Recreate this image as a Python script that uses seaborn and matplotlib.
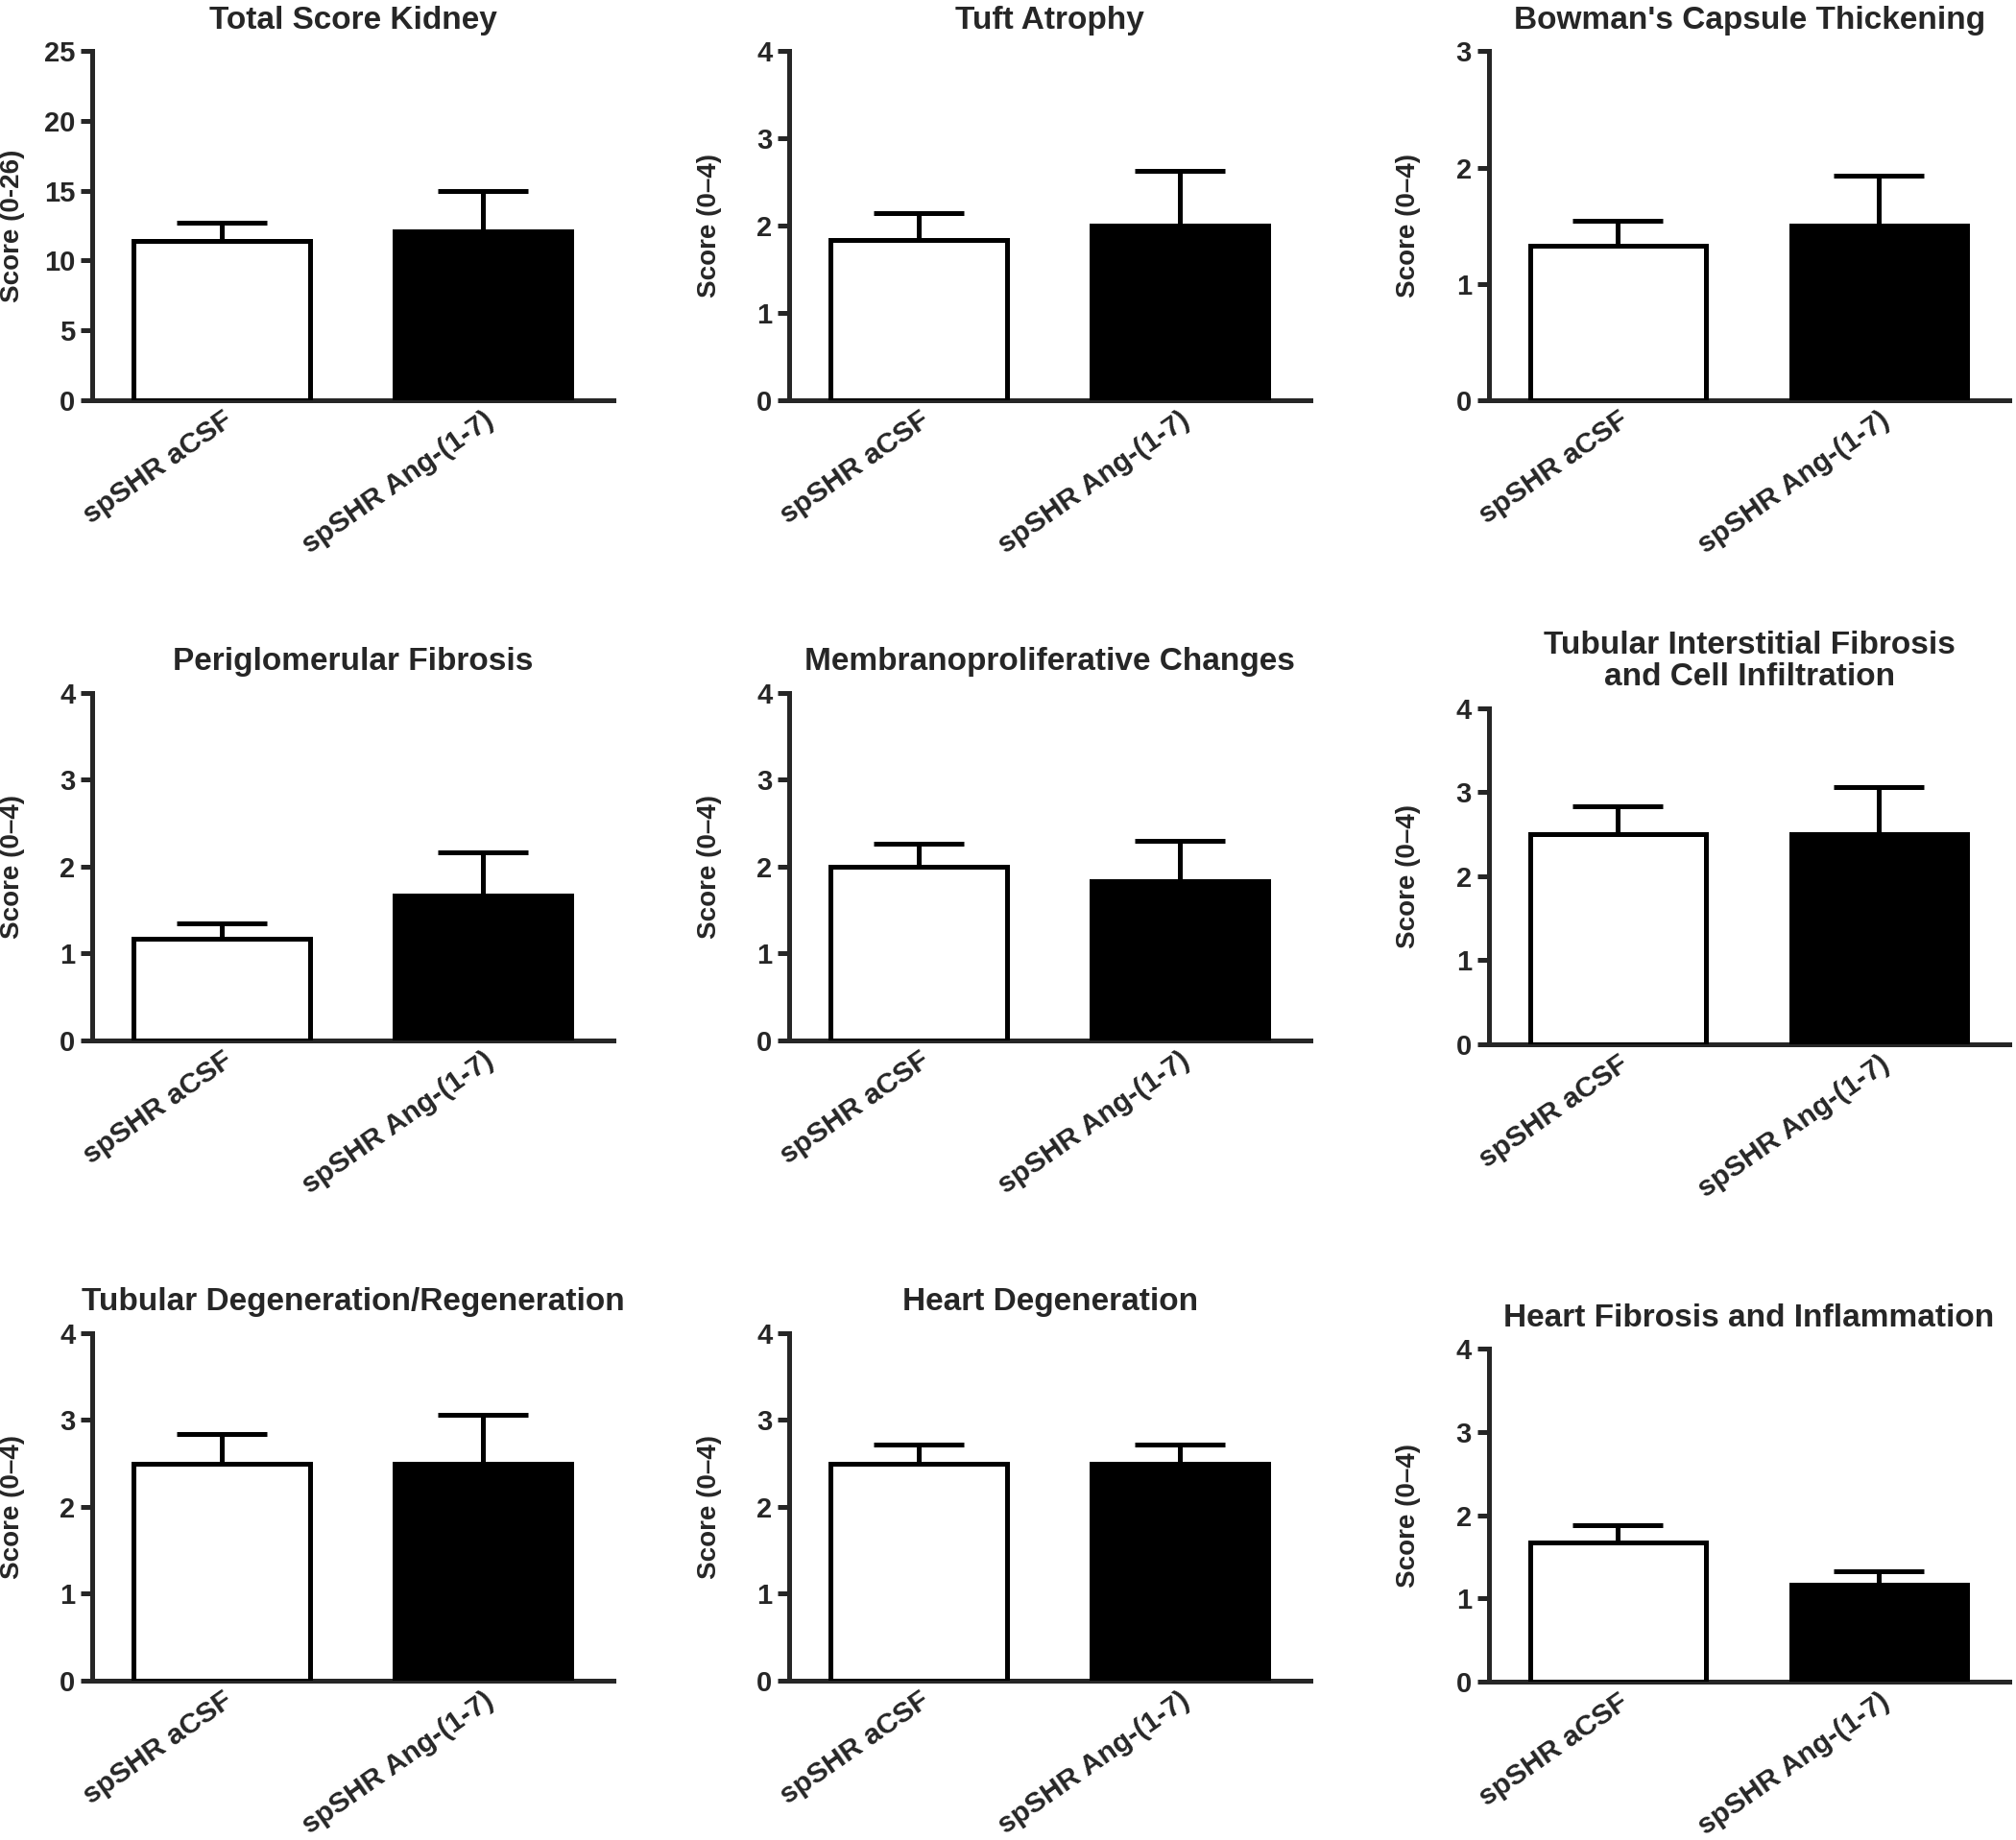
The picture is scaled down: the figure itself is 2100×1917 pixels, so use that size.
import pandas as pd
import matplotlib
matplotlib.use("Agg")
import matplotlib.pyplot as plt
import seaborn as sns

grupos = ["spSHR aCSF", "spSHR Ang-(1-7)"]

titulos = ["Total Score Kidney", "Tuft Atrophy", "Bowman's Capsule Thickening",
           "Periglomerular Fibrosis", "Membranoproliferative Changes",
           "Tubular Interstitial Fibrosis\nand Cell Infiltration",
           "Tubular Degeneration/Regeneration", "Heart Degeneration",
           "Heart Fibrosis and Inflammation"]
etiquetas_y = ["Score (0-26)"] + ["Score (0\u20134)"] * 8
y_max = [25, 4, 3, 4, 4, 4, 4, 4, 4]
y_paso = [5, 1, 1, 1, 1, 1, 1, 1, 1]

media_acsf = [11.4, 1.83, 1.33, 1.17, 2.0, 2.5, 2.5, 2.5, 1.67]
sem_acsf = [1.3, 0.31, 0.21, 0.17, 0.26, 0.33, 0.34, 0.22, 0.21]
media_ang = [12.1, 2.0, 1.5, 1.67, 1.83, 2.5, 2.5, 2.5, 1.17]
sem_ang = [2.9, 0.63, 0.43, 0.49, 0.47, 0.56, 0.56, 0.22, 0.16]

sns.set_style("ticks")
plt.rcParams['font.family'] = ['Liberation Sans', 'DejaVu Sans']
plt.rcParams['font.weight'] = 'bold'

fig = plt.figure(figsize=(21, 19.17), dpi=100)

# posiciones de los ejes (izquierda, abajo, ancho, alto)
izq = [0.0459, 0.3916, 0.7385]
ancho = 0.2583
filas = [[(0.7827, 0.1894)] * 3,
         [(0.4347, 0.1887), (0.4347, 0.1887), (0.4326, 0.1824)],
         [(0.0867, 0.1887), (0.0867, 0.1887), (0.0860, 0.181)]]

lw = 3.6
for i in range(9):
    f, c = divmod(i, 3)
    abajo, alto = filas[f][c]
    ax = fig.add_axes([izq[c], abajo, ancho, alto])
    df = pd.DataFrame({"grupo": grupos, "score": [media_acsf[i], media_ang[i]]})
    sns.barplot(data=df, x="grupo", y="score", hue="grupo", palette=["white", "black"],
                edgecolor="black", linewidth=lw, width=0.675, legend=False, ax=ax, zorder=3)
    ax.errorbar([0, 1], df["score"], yerr=[[0, 0], [sem_acsf[i], sem_ang[i]]],
                fmt="none", ecolor="black", elinewidth=lw, capsize=34, capthick=lw, zorder=2)
    ax.set_xlim(-0.495, 1.5)
    ax.set_ylim(0, y_max[i])
    ax.set_yticks(range(0, y_max[i] + 1, y_paso[i]))
    sns.despine(ax=ax)
    for lado in ["left", "bottom"]:
        ax.spines[lado].set_linewidth(lw)
    ax.tick_params(axis="y", length=9, width=lw, labelsize=21, pad=4)
    ax.tick_params(axis="x", length=0, labelsize=21.5, pad=5)
    for t in ax.get_yticklabels():
        t.set_fontweight("bold")
    ax.set_xticks([0, 1])
    ax.set_xticklabels(grupos, rotation=35, ha="right", va="top",
                       rotation_mode="anchor", fontweight="bold")
    ax.set_xlabel("")
    ax.set_ylabel(etiquetas_y[i], fontsize=20, fontweight="bold")
    ax.yaxis.set_label_coords(-0.13, 0.5)
    ax.set_title(titulos[i], fontsize=24, fontweight="bold", pad=17, linespacing=1.1)

fig.savefig("out.png", dpi=100)
